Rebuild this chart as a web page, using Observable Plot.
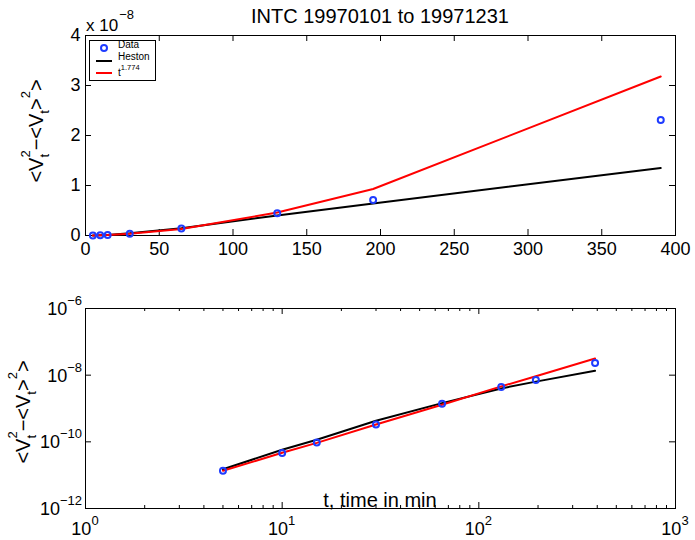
<!DOCTYPE html>
<html><head><meta charset="utf-8">
<script src="https://cdn.jsdelivr.net/npm/d3@7"></script>
<script src="https://cdn.jsdelivr.net/npm/@observablehq/plot@0.6"></script>
<style>
body{margin:0;background:#fff;}
#chart{position:relative;width:695px;height:540px;}
#chart svg{display:block;}
</style></head><body><div id="chart"></div>
<script>
// ---- data ----
const title = "INTC 19970101 to 19971231";
const tMin = [5, 10, 15, 30, 65, 130, 195, 390];
const dataVar = [1.35e-11, 4.6e-11, 9.5e-11, 3.3e-10, 1.4e-9, 4.45e-9, 7.1e-9, 2.31e-8];
const hestonVar = [1.5e-11, 5.8e-11, 1.15e-10, 4.3e-10, 1.45e-9, 4.0e-9, 6.4e-9, 1.35e-8];
const powerVar = [1.35e-11, 4.7e-11, 9.3e-11, 3.3e-10, 1.3e-9, 4.6e-9, 9.3e-9, 3.18e-8];
const seriesNames = ["Data", "Heston", "t"];
const powerExp = "1.774";
const xTicksLin = [0, 50, 100, 150, 200, 250, 300, 350, 400];
const yTicksLin = [0, 1, 2, 3, 4];
const yLinExp = -8;
const xTicksLog = [1, 10, 100, 1000];
const xMinorLog = [2,3,4,5,6,7,8,9,20,30,40,50,60,70,80,90,200,300,400,500,600,700,800,900];
const yTicksLog = [1e-12, 1e-10, 1e-8, 1e-6];
const xLabel = "t, time in min";

const rows = tMin.map((t, i) => ({t, data: dataVar[i], heston: hestonVar[i], power: powerVar[i]}));
const font = '"Liberation Sans", Arial, Helvetica, sans-serif';
const W = 695, H = 270, innerH = 200, innerW = 590, tk = 6;
const blue = "#1f3cff";
const baseStyle = {fontFamily: font, fontSize: "18px", background: "white", color: "black", overflow: "visible"};

function ticks(xVals, yVals, xLen, yLen) {
  const m = [];
  if (xVals) {
    m.push(Plot.tickX(xVals, {x: d => d, insetTop: innerH - xLen, stroke: "black", strokeWidth: 1}));
    m.push(Plot.tickX(xVals, {x: d => d, insetBottom: innerH - xLen, stroke: "black", strokeWidth: 1}));
  }
  if (yVals) {
    m.push(Plot.tickY(yVals, {y: d => d, insetRight: innerW - yLen, stroke: "black", strokeWidth: 1}));
    m.push(Plot.tickY(yVals, {y: d => d, insetLeft: innerW - yLen, stroke: "black", strokeWidth: 1}));
  }
  return m;
}
function seriesMarks() {
  return [
    Plot.line(rows, {x: "t", y: "heston", stroke: "black", strokeWidth: 2}),
    Plot.line(rows, {x: "t", y: "power", stroke: "red", strokeWidth: 2}),
    Plot.dot(rows, {x: "t", y: "data", r: 3, stroke: blue, strokeWidth: 2, fill: "none"})
  ];
}
function txt(sel, anchor, size) {
  return sel.append("text").attr("text-anchor", anchor).attr("fill", "black")
    .style("font-family", font).style("font-size", size + "px");
}
function ylab(svg, x, y) {
  const t = txt(svg, "middle", 20).attr("transform", `translate(${x},${y}) rotate(-90)`);
  t.append("tspan").text("<V");
  t.append("tspan").attr("dy", 6).style("font-size", "13px").text("t");
  t.append("tspan").attr("dx", -3.6).attr("dy", -19).style("font-size", "13px").text("2");
  t.append("tspan").attr("dy", 13).text("\u2212<V");
  t.append("tspan").attr("dy", 6).style("font-size", "13px").text("t");
  t.append("tspan").attr("dy", -6).text(">");
  t.append("tspan").attr("dy", -13).style("font-size", "13px").text("2");
  t.append("tspan").attr("dy", 13).text(">");
}

// ---- top panel (linear) ----
const topPlot = Plot.plot({
  width: W, height: H, marginLeft: 85, marginRight: 20, marginTop: 35, marginBottom: 35,
  style: baseStyle,
  x: {domain: [0, 400]},
  y: {domain: [0, 4 * 10 ** yLinExp]},
  marks: [
    Plot.frame({stroke: "black"}),
    Plot.axisX(xTicksLin, {tickSize: 0, tickPadding: 7, label: null}),
    Plot.axisY(yTicksLin.map(v => v * 10 ** yLinExp), {tickSize: 0, tickPadding: 5, label: null,
      tickFormat: d => String(Math.round(d / 10 ** yLinExp))}),
    ...ticks(xTicksLin, yTicksLin.map(v => v * 10 ** yLinExp), tk, tk),
    ...seriesMarks()
  ]
});

// ---- bottom panel (log-log) ----
const botPlot = Plot.plot({
  width: W, height: H, marginLeft: 85, marginRight: 20, marginTop: 38, marginBottom: 32,
  style: baseStyle,
  x: {type: "log", domain: [1, 1000], axis: null},
  y: {type: "log", domain: [1e-12, 1e-6], axis: null},
  marks: [
    Plot.frame({stroke: "black"}),
    ...ticks(xTicksLog, yTicksLog, tk, tk),
    ...ticks(xMinorLog, null, 3, 3),
    ...seriesMarks()
  ]
});

const chart = document.getElementById("chart");
chart.appendChild(topPlot);
chart.appendChild(botPlot);

// ---- annotations top ----
const st = d3.select(topPlot);
const sx = topPlot.scale("x");
const cx = (sx.apply(0) + sx.apply(400)) / 2;
txt(st, "middle", 20).attr("x", cx).attr("y", 23).text(title);
const mult = txt(st, "start", 17).attr("x", 86).attr("y", 31);
mult.append("tspan").text("x 10");
mult.append("tspan").attr("dy", -12).attr("dx", 1).style("font-size", "13px").text("\u2212" + Math.abs(yLinExp));
ylab(st, 43, 131);

// legend
const lg = st.append("g");
lg.append("rect").attr("x", 89.5).attr("y", 40.5).attr("width", 66).attr("height", 40)
  .attr("fill", "white").attr("stroke", "black");
lg.append("circle").attr("cx", 104).attr("cy", 48).attr("r", 3).attr("fill", "none").attr("stroke", blue).attr("stroke-width", 2);
lg.append("line").attr("x1", 96).attr("x2", 112).attr("y1", 61).attr("y2", 61).attr("stroke", "black").attr("stroke-width", 2);
lg.append("line").attr("x1", 96).attr("x2", 112).attr("y1", 73).attr("y2", 73).attr("stroke", "red").attr("stroke-width", 2);
txt(lg, "start", 10).attr("x", 118).attr("y", 48).text(seriesNames[0]);
txt(lg, "start", 10).attr("x", 118).attr("y", 60).text(seriesNames[1]);
const pt = txt(lg, "start", 10).attr("x", 118).attr("y", 76);
pt.append("tspan").text(seriesNames[2]);
pt.append("tspan").attr("dy", -6).style("font-size", "7.5px").text(powerExp);

// ---- annotations bottom ----
const sb = d3.select(botPlot);
const bx = botPlot.scale("x"), by = botPlot.scale("y");
xTicksLog.forEach(v => {
  const t = txt(sb, "middle", 18).attr("x", bx.apply(v)).attr("y", 265);
  t.append("tspan").text("10");
  t.append("tspan").attr("dy", -10).style("font-size", "13px").text(String(Math.round(Math.log10(v))));
});
yTicksLog.forEach(v => {
  const t = txt(sb, "end", 18).attr("x", 82).attr("y", by.apply(v) + 7);
  t.append("tspan").text("10");
  t.append("tspan").attr("dy", -10).style("font-size", "13px").text("\u2212" + Math.abs(Math.round(Math.log10(v))));
});
txt(sb, "middle", 20).attr("x", (bx.apply(1) + bx.apply(1000)) / 2).attr("y", 237).text(xLabel);
ylab(sb, 30, 142);
</script></body></html>
